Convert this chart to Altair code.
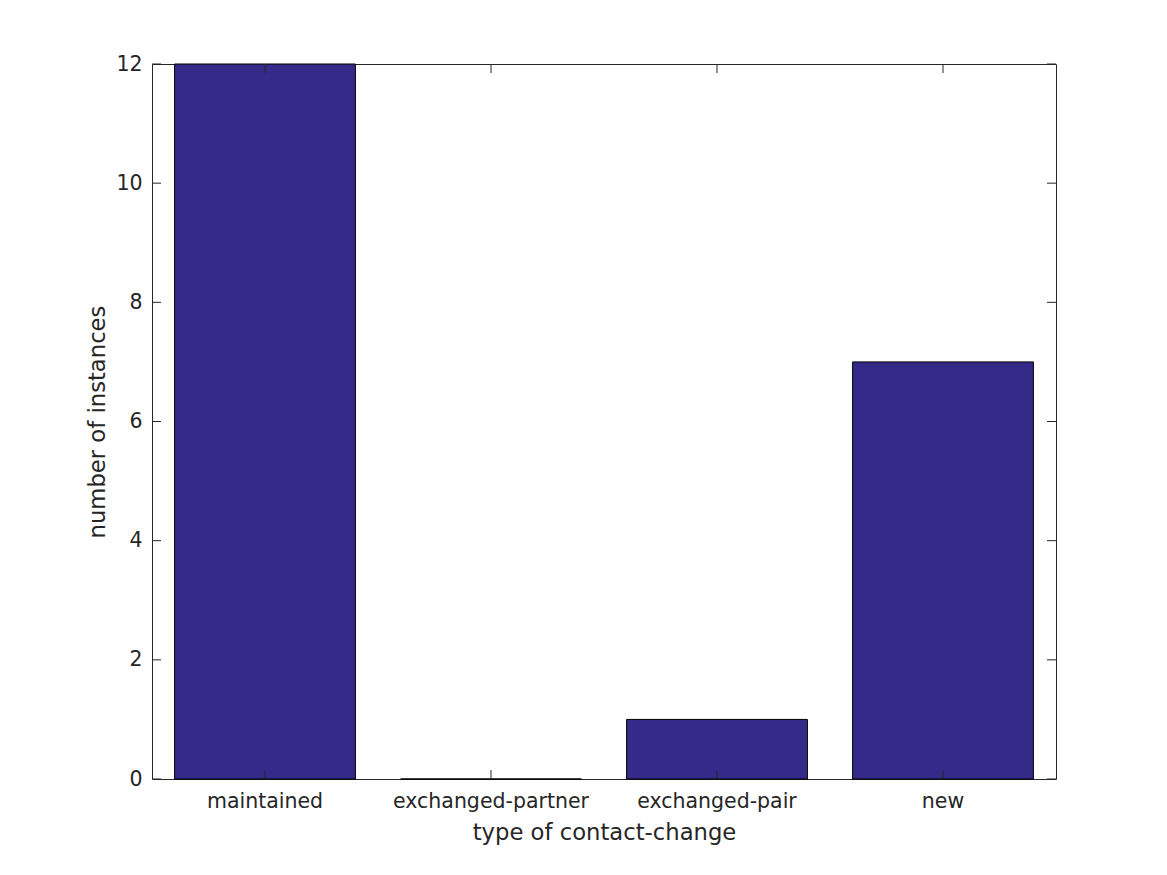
import altair as alt
import pandas as pd

categories = ["maintained", "exchanged-partner", "exchanged-pair", "new"]
counts = [12, 0, 1, 7]
y_ticks = [0, 2, 4, 6, 8, 10, 12]

W, H = 904, 715
TXT = "#262626"
FONT = "DejaVu Sans"
LFS = 20.5
TFS = 22.7

bars_df = pd.DataFrame({"category": categories, "count": counts})
yt_df = pd.DataFrame({"v": y_ticks})
xt_df = pd.DataFrame({"category": categories})

xscale = alt.Scale(domain=categories, paddingInner=0.2, paddingOuter=0.1)
yscale = alt.Scale(domain=[0, 12], nice=False, zero=True)

bars = alt.Chart(bars_df).mark_bar(
    color="#352a87", stroke="#000000", strokeWidth=1
).encode(
    x=alt.X("category:N", scale=xscale, sort=categories,
            axis=alt.Axis(title="type of contact-change", labelAngle=0,
                          tickSize=0, domain=False, labelPadding=12,
                          labelLimit=0,
                          labelFontSize=LFS, titleFontSize=TFS,
                          labelColor=TXT, titleColor=TXT,
                          labelFont=FONT, titleFont=FONT,
                          titleFontWeight="normal", grid=False,
                          titleBaseline="alphabetic", titleY=60)),
    y=alt.Y("count:Q", scale=yscale,
            axis=alt.Axis(title="number of instances", values=y_ticks,
                          format="d",
                          tickSize=0, domain=False, labelPadding=10,
                          labelFontSize=LFS, titleFontSize=TFS,
                          labelColor=TXT, titleColor=TXT,
                          labelFont=FONT, titleFont=FONT,
                          titleFontWeight="normal", grid=False,
                          titleBaseline="alphabetic", titleX=-48,
                          titleY=H / 2, titleAngle=-90)),
)

tick_style = dict(color=TXT, strokeWidth=1)

ytl = alt.Chart(yt_df).mark_rule(**tick_style).encode(
    y=alt.Y("v:Q", scale=yscale, axis=None), x=alt.value(0), x2=alt.value(9))
ytr = alt.Chart(yt_df).mark_rule(**tick_style).encode(
    y=alt.Y("v:Q", scale=yscale, axis=None), x=alt.value(W - 9), x2=alt.value(W))
xtb = alt.Chart(xt_df).mark_rule(**tick_style).encode(
    x=alt.X("category:N", scale=xscale, sort=categories, axis=None),
    y=alt.value(H - 9), y2=alt.value(H))
xtt = alt.Chart(xt_df).mark_rule(**tick_style).encode(
    x=alt.X("category:N", scale=xscale, sort=categories, axis=None),
    y=alt.value(0), y2=alt.value(9))

chart = alt.layer(bars, ytl, ytr, xtb, xtt).resolve_axis(
    x="independent", y="independent"
).properties(
    width=W, height=H,
    background="white",
    autosize=alt.AutoSizeParams(type="none"),
    padding={"left": 144, "top": 56, "right": 103, "bottom": 88},
).configure_view(
    stroke=TXT, strokeWidth=1
)

chart.save("out.html", embed_options={"renderer": "svg", "actions": False})
